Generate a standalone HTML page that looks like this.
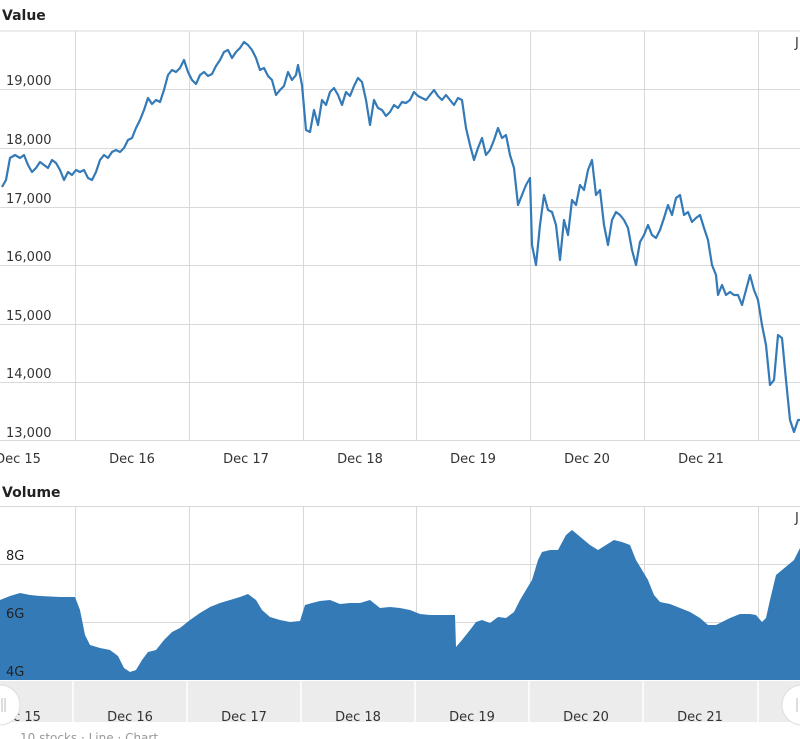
<!DOCTYPE html>
<html><head><meta charset="utf-8"><style>
body{margin:0;background:#fff;font-family:"Liberation Sans","DejaVu Sans",sans-serif;}
svg{display:block}
</style></head><body>
<svg width="800" height="739" viewBox="0 0 800 739" xmlns="http://www.w3.org/2000/svg" font-family="'DejaVu Sans','Liberation Sans',sans-serif">
<text x="2" y="20" font-size="14" font-weight="bold" fill="#222">Value</text>
<g stroke="#d9d9d9" stroke-width="1">
<line x1="0" y1="31" x2="800" y2="31"/>
<line x1="0" y1="89.5" x2="800" y2="89.5"/><line x1="0" y1="148.5" x2="800" y2="148.5"/>
<line x1="0" y1="207.5" x2="800" y2="207.5"/><line x1="0" y1="265.5" x2="800" y2="265.5"/>
<line x1="0" y1="324.5" x2="800" y2="324.5"/><line x1="0" y1="382.5" x2="800" y2="382.5"/>
<line x1="0" y1="440.5" x2="800" y2="440.5"/>
<line x1="75.5" y1="31" x2="75.5" y2="440"/><line x1="189.5" y1="31" x2="189.5" y2="440"/>
<line x1="303.5" y1="31" x2="303.5" y2="440"/><line x1="416.5" y1="31" x2="416.5" y2="440"/>
<line x1="530.5" y1="31" x2="530.5" y2="440"/><line x1="644.5" y1="31" x2="644.5" y2="440"/>
<line x1="758.5" y1="31" x2="758.5" y2="440"/>
<line x1="0" y1="506.5" x2="800" y2="506.5"/><line x1="0" y1="564.5" x2="800" y2="564.5"/>
<line x1="0" y1="622.5" x2="800" y2="622.5"/>
<line x1="75.5" y1="506" x2="75.5" y2="680"/><line x1="189.5" y1="506" x2="189.5" y2="680"/>
<line x1="303.5" y1="506" x2="303.5" y2="680"/><line x1="416.5" y1="506" x2="416.5" y2="680"/>
<line x1="530.5" y1="506" x2="530.5" y2="680"/><line x1="644.5" y1="506" x2="644.5" y2="680"/>
<line x1="758.5" y1="506" x2="758.5" y2="680"/>
</g>
<g font-size="13" fill="#333">
<text x="6" y="85">19,000</text><text x="6" y="144">18,000</text><text x="6" y="203">17,000</text>
<text x="6" y="261">16,000</text><text x="6" y="320">15,000</text><text x="6" y="378">14,000</text>
<text x="6" y="437">13,000</text>
<text x="795" y="47">J</text>
</g>
<polyline fill="none" stroke="#337ab7" stroke-width="2.2" stroke-linejoin="round" points="2,187 6,180 10,158 15,155 20,158 24,155 28,165 32,172 36,168 40,162 44,165 48,168 52,160 56,163 60,170 64,180 68,172 72,175 76,170 80,172 84,170 88,178 92,180 96,172 100,160 104,155 108,158 112,152 116,150 120,152 124,148 128,140 132,138 136,128 140,120 144,110 148,98 152,104 156,100 160,102 164,90 168,75 172,70 176,72 180,68 184,60 188,72 192,80 196,84 200,75 204,72 208,76 212,74 216,66 220,60 224,52 228,50 232,58 236,52 240,48 244,42 248,45 252,50 256,58 260,70 264,68 268,76 272,80 276,95 280,90 284,86 288,72 292,80 296,75 298,65 302,85 306,130 310,132 314,110 318,125 322,100 326,105 330,92 334,88 338,95 342,105 346,92 350,96 354,86 358,78 362,82 366,100 370,125 374,100 378,108 382,110 386,116 390,112 394,105 398,108 402,102 406,103 410,100 414,92 418,96 422,98 426,100 430,95 434,90 438,96 442,100 446,95 450,100 454,105 458,98 462,100 466,128 470,145 474,160 478,148 482,138 486,155 490,150 494,140 498,128 502,138 506,135 510,155 514,168 518,205 522,195 526,185 530,178 532,245 536,265 540,225 544,195 548,210 552,212 556,225 560,260 564,220 568,235 572,200 576,205 580,185 584,190 588,170 592,160 596,195 600,190 604,225 608,245 612,220 616,212 620,215 624,220 628,228 632,250 636,265 640,242 644,235 648,225 652,235 656,238 660,230 664,218 668,205 672,215 676,198 680,195 684,215 688,212 692,222 696,218 700,215 704,228 708,240 712,265 716,275 718,295 722,285 726,295 730,292 734,295 738,295 742,305 746,290 750,275 754,290 758,300 762,325 766,345 770,385 774,380 778,335 782,338 786,380 790,420 794,432 798,420 800,420"/>
<g font-size="13" fill="#333" text-anchor="middle">
<text x="18" y="463">Dec 15</text><text x="132" y="463">Dec 16</text><text x="246" y="463">Dec 17</text>
<text x="360" y="463">Dec 18</text><text x="473" y="463">Dec 19</text><text x="587" y="463">Dec 20</text>
<text x="701" y="463">Dec 21</text>
</g>
<text x="2" y="497" font-size="14" font-weight="bold" fill="#222">Volume</text>
<polygon fill="#337ab7" points="0,680 0,600 10,596 20,593 30,595 40,596 60,597 75,597 80,610 85,635 90,645 100,648 110,650 118,656 124,668 130,672 136,670 142,660 148,652 156,650 164,640 172,632 180,628 190,620 200,613 210,607 220,603 230,600 240,597 248,594 256,600 262,610 270,617 280,620 290,622 300,621 305,605 312,603 320,601 330,600 340,604 350,603 360,603 370,600 380,608 390,607 400,608 410,610 420,614 430,615 440,615 455,615 456,647 462,640 470,630 476,622 482,620 490,623 498,617 506,618 514,612 520,600 526,590 532,580 538,560 542,552 550,550 558,550 566,535 572,530 578,535 584,540 590,545 598,550 606,545 614,540 622,542 630,545 636,560 642,570 648,580 654,595 660,602 670,604 680,608 690,612 700,618 708,625 716,625 722,622 730,618 740,614 750,614 756,615 762,622 766,618 770,600 776,575 782,570 788,565 794,560 800,548 800,680"/>
<g font-size="13" fill="#222">
<text x="6" y="560">8G</text><text x="6" y="618">6G</text><text x="6" y="676">4G</text>
<text x="795" y="522" fill="#333">J</text>
</g>
<rect x="0" y="681" width="800" height="41" fill="#ececec"/>
<g stroke="#fff" stroke-width="1.5">
<line x1="73" y1="681" x2="73" y2="722"/><line x1="187" y1="681" x2="187" y2="722"/>
<line x1="301" y1="681" x2="301" y2="722"/><line x1="415" y1="681" x2="415" y2="722"/>
<line x1="529" y1="681" x2="529" y2="722"/><line x1="643" y1="681" x2="643" y2="722"/>
<line x1="758" y1="681" x2="758" y2="722"/>
</g>
<g font-size="13" fill="#333" text-anchor="middle">
<text x="18" y="721">Dec 15</text><text x="130" y="721">Dec 16</text><text x="244" y="721">Dec 17</text>
<text x="358" y="721">Dec 18</text><text x="472" y="721">Dec 19</text><text x="586" y="721">Dec 20</text>
<text x="700" y="721">Dec 21</text>
</g>
<circle cx="0" cy="705" r="20" fill="#fff" stroke="#ddd"/>
<line x1="2" y1="698" x2="2" y2="712" stroke="#bbb"/><line x1="5" y1="698" x2="5" y2="712" stroke="#bbb"/>
<circle cx="802" cy="705" r="20" fill="#fff" stroke="#ddd"/>
<line x1="797" y1="698" x2="797" y2="712" stroke="#bbb"/>
<text x="20" y="742" font-size="12" fill="#999">10 stocks · Line · Chart</text>
</svg>
</body></html>
